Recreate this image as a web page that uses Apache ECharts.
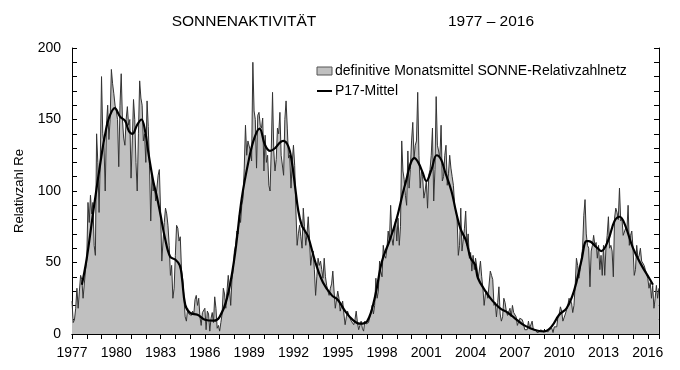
<!DOCTYPE html>
<html>
<head>
<meta charset="utf-8">
<script src="https://cdn.jsdelivr.net/npm/echarts@6/dist/echarts.min.js"></script>
<style>
html,body{margin:0;padding:0;background:#fff;}
#chart{width:680px;height:370px;}
</style>
</head>
<body>
<div id="chart"></div>
<script>
// Monthly means (SONNE relative number Re), starting January 1977, one row per year
const startYear = 1977;
const monthlyRe = [
  23, 8, 10, 18, 32, 18, 30, 41, 38, 25, 35, 45,           // 1977
  52, 92, 78, 97, 84, 92, 62, 55, 140, 120, 85, 122,       // 1978
  180, 140, 132, 100, 146, 160, 136, 150, 185, 175, 168, 160, // 1979
  156, 150, 117, 160, 182, 150, 137, 132, 150, 159, 146, 150, // 1980
  109, 135, 164, 150, 120, 100, 140, 177, 165, 160, 135, 140, // 1981
  120, 163, 145, 118, 79, 111, 100, 105, 93, 92, 111, 115,  // 1982
  86, 51, 65, 78, 88, 84, 76, 62, 41, 48, 25, 32,           // 1983
  55, 76, 74, 65, 68, 45, 38, 25, 12, 9, 18, 14,            // 1984
  14, 13, 16, 14, 24, 27, 20, 25, 12, 6, 15, 14,            // 1985
  18, 3, 16, 14, 2, 11, 15, 8, 26, 18, 4, 6,                // 1986
  2, 8, 14, 32, 28, 18, 30, 41, 32, 20, 38, 45,             // 1987
  58, 62, 72, 70, 83, 78, 90, 95, 116, 146, 125, 135,       // 1988
  135, 128, 121, 190, 156, 150, 116, 153, 155, 146, 144, 151, // 1989
  114, 139, 120, 125, 104, 100, 130, 169, 128, 114, 122, 144, // 1990
  140, 155, 125, 125, 111, 150, 163, 144, 123, 125, 102, 120, // 1991
  132, 118, 86, 62, 70, 76, 68, 60, 88, 75, 62, 70,         // 1992
  82, 67, 48, 55, 58, 45, 27, 40, 53, 48, 51, 45,           // 1993
  39, 53, 40, 34, 30, 27, 32, 35, 44, 30, 18, 24,           // 1994
  30, 25, 16, 20, 23, 14, 6.5, 12, 16, 13, 11, 9,           // 1995
  8, 6.5, 10, 16, 8, 3, 6, 9, 4, 2, 9, 7,                   // 1996
  6, 8, 9, 15, 20, 14, 20, 39, 25, 30, 51, 44,              // 1997
  40, 62, 55, 53, 60, 72, 65, 90, 67, 62, 72, 80,           // 1998
  65, 81, 62, 75, 135, 114, 108, 97, 90, 128, 102, 115,     // 1999
  135, 148, 123, 132, 135, 169, 125, 102, 114, 110, 95, 100, // 2000
  107, 88, 111, 115, 125, 144, 93, 115, 166, 132, 128, 123, // 2001
  146, 107, 110, 125, 132, 104, 112, 125, 116, 110, 104, 90, // 2002
  86, 81, 55, 62, 88, 58, 66, 74, 86, 62, 70, 53,           // 2003
  57, 44, 55, 45, 53, 47, 39, 44, 51, 40, 32, 20,           // 2004
  28, 30, 25, 24, 44, 41, 38, 20, 22, 12, 22, 33,           // 2005
  14, 9, 12, 25, 22, 16, 13, 14, 18, 12, 20, 15,            // 2006
  16, 12, 6, 5, 11, 12, 10, 7, 3, 2, 3, 9,                  // 2007
  4, 3, 9, 3, 3, 3, 1, 0.5, 1.5, 3, 4, 1.5,                 // 2008
  1.5, 2, 1, 1.5, 3, 3, 4, 1, 5, 5, 5, 12,                  // 2009
  14, 19, 16, 9, 10, 14, 17, 20, 25, 24, 22, 15,            // 2010
  20, 34, 53, 48, 39, 45, 44, 60, 83, 94, 70, 62,           // 2011
  60, 33, 58, 62, 69, 62, 64, 53, 62, 45, 55, 41,           // 2012
  62, 41, 60, 69, 82, 60, 62, 58, 40, 81, 88, 85,           // 2013
  80, 102, 79, 81, 69, 70, 74, 72, 90, 62, 69, 72,          // 2014
  60, 41, 45, 62, 53, 55, 60, 51, 52, 48, 45, 42,           // 2015
  39, 32, 36, 25, 34, 18, 25, 34, 25, 32                    // 2016
];

// P17 smoothed mean as [year, value]
const p17Points = [
  [1977.67, 34.5], [1978.0, 53], [1978.5, 90], [1979.0, 125], [1979.25, 140], [1979.5, 151],
  [1979.9, 158], [1980.25, 152], [1980.6, 149], [1980.85, 142], [1981.1, 140], [1981.4, 146],
  [1981.7, 150], [1981.95, 142], [1982.2, 125], [1982.5, 107], [1982.75, 96], [1983.0, 83],
  [1983.3, 67], [1983.65, 54], [1984.0, 52], [1984.3, 48], [1984.45, 39], [1984.67, 20.5],
  [1985.0, 14.7], [1985.5, 13.5], [1986.0, 10], [1986.6, 9.3], [1987.0, 12], [1987.5, 25],
  [1988.0, 53], [1988.5, 95], [1989.0, 123], [1989.35, 137], [1989.7, 143.6], [1990.08, 132],
  [1990.42, 128], [1990.76, 130], [1991.1, 134], [1991.32, 135], [1991.66, 131], [1991.88, 121],
  [1992.1, 104], [1992.33, 86], [1992.56, 76], [1992.78, 72], [1993.0, 68], [1993.46, 51],
  [1994.0, 36], [1994.6, 27], [1995.0, 24], [1995.5, 16], [1996.0, 10], [1996.5, 7.2],
  [1997.0, 9], [1997.5, 25], [1998.0, 51], [1998.5, 65], [1999.0, 81], [1999.55, 104],
  [2000.2, 123], [2000.45, 120], [2000.75, 113], [2001.0, 107], [2001.35, 115], [2001.7, 125],
  [2002.0, 122], [2002.25, 114], [2002.7, 100], [2003.0, 86], [2003.3, 74], [2003.7, 65],
  [2004.0, 53], [2004.3, 48.5], [2004.5, 39], [2005.0, 30], [2005.5, 23], [2006.0, 18],
  [2006.55, 14.7], [2007.0, 11], [2007.55, 6.5], [2008.0, 4.2], [2008.55, 2.3], [2009.0, 1.9],
  [2009.5, 5.4], [2010.0, 13.5], [2010.5, 18], [2011.0, 30], [2011.5, 51], [2011.85, 65],
  [2012.0, 65], [2012.5, 61], [2012.85, 58], [2013.3, 65], [2013.75, 79], [2014.1, 82],
  [2014.45, 76.5], [2015.0, 60], [2015.55, 48.5], [2016.1, 39], [2016.35, 34.5]
];

const titleLeft = 'SONNENAKTIVITÄT';
const titleRight = '1977 – 2016';
const yAxisName = 'Relativzahl Re';
const legendArea = 'definitive Monatsmittel SONNE-Relativzahlnetz';
const legendLine = 'P17-Mittel';

const monthlyData = monthlyRe.map((v, i) => [startYear + i / 12, v]);

const FONT = '"Liberation Sans", Arial, sans-serif';
const chart = echarts.init(document.getElementById('chart'), null, {renderer: 'canvas'});

const xCommon = {
  type: 'value', min: 1977, max: 2016.76, interval: 1,
  axisLine: {show: true, lineStyle: {color: '#000', width: 1}},
  axisTick: {show: true, inside: true, length: 5, lineStyle: {color: '#000', width: 1}},
  splitLine: {show: false}
};
const yCommon = {
  type: 'value', min: 0, max: 200, interval: 10,
  axisLine: {show: true, lineStyle: {color: '#000', width: 1}},
  axisTick: {show: true, inside: true, length: 5, lineStyle: {color: '#000', width: 1}},
  splitLine: {show: false}
};

chart.setOption({
  backgroundColor: '#fff',
  animation: false,
  textStyle: {fontFamily: FONT},
  grid: {left: 72, right: 21, top: 48, bottom: 36},
  xAxis: [
    Object.assign({}, xCommon, {
      position: 'bottom',
      axisLabel: {
        show: true, color: '#000', fontSize: 14, fontFamily: FONT, margin: 12,
        formatter: v => (Math.abs(v - Math.round(v)) < 1e-6 && (Math.round(v) - 1977) % 3 === 0) ? String(Math.round(v)) : ''
      }
    }),
    Object.assign({}, xCommon, {position: 'top', axisLabel: {show: false}})
  ],
  yAxis: [
    Object.assign({}, yCommon, {
      position: 'left',
      name: yAxisName, nameLocation: 'middle', nameRotate: 90, nameGap: 46,
      nameTextStyle: {color: '#000', fontSize: 13, fontFamily: FONT},
      axisLabel: {
        show: true, color: '#000', fontSize: 14, fontFamily: FONT, margin: 11,
        formatter: v => (Math.round(v) % 50 === 0) ? String(Math.round(v)) : ''
      }
    }),
    Object.assign({}, yCommon, {position: 'right', axisLabel: {show: false}})
  ],
  series: [
    {
      name: legendArea, type: 'line', data: monthlyData,
      xAxisIndex: 0, yAxisIndex: 0,
      symbol: 'none', smooth: false,
      lineStyle: {color: '#333', width: 1},
      areaStyle: {color: '#c0c0c0', opacity: 1},
      z: 2
    },
    {
      name: legendLine, type: 'line', data: p17Points,
      xAxisIndex: 0, yAxisIndex: 0,
      symbol: 'none', smooth: 0.4,
      lineStyle: {color: '#000', width: 2.2},
      z: 3
    }
  ],
  graphic: [
    {type: 'text', x: 244, y: 22, z: 10,
     style: {text: titleLeft, font: '15.5px ' + FONT, fill: '#000', textAlign: 'center', textVerticalAlign: 'middle'}},
    {type: 'text', x: 491, y: 22, z: 10,
     style: {text: titleRight, font: '15.5px ' + FONT, fill: '#000', textAlign: 'center', textVerticalAlign: 'middle'}},
    {type: 'rect', z: 10, shape: {x: 317, y: 67, width: 15, height: 8},
     style: {fill: '#c0c0c0', stroke: '#555', lineWidth: 1}},
    {type: 'text', x: 335, y: 71, z: 10,
     style: {text: legendArea, font: '14px ' + FONT, fill: '#000', textAlign: 'left', textVerticalAlign: 'middle'}},
    {type: 'line', z: 10, shape: {x1: 317, y1: 91, x2: 332, y2: 91},
     style: {stroke: '#000', lineWidth: 2}},
    {type: 'text', x: 335, y: 91, z: 10,
     style: {text: legendLine, font: '14px ' + FONT, fill: '#000', textAlign: 'left', textVerticalAlign: 'middle'}}
  ]
});
</script>
</body>
</html>
